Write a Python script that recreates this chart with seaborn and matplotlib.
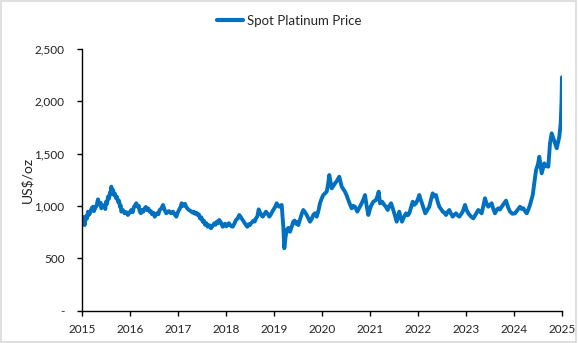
import matplotlib
matplotlib.use("Agg")
import matplotlib.pyplot as plt
import matplotlib.patches as mpatches
from matplotlib.ticker import FuncFormatter
import seaborn as sns
import pandas as pd

# Time in decimal years
time_years = [
    2015.010, 2015.020, 2015.031, 2015.043, 2015.056, 2015.070, 2015.083, 2015.104,
    2015.125, 2015.146, 2015.167, 2015.198, 2015.229, 2015.250, 2015.271, 2015.302,
    2015.333, 2015.354, 2015.375, 2015.389, 2015.402, 2015.438, 2015.473, 2015.486,
    2015.500, 2015.521, 2015.542, 2015.562, 2015.583, 2015.597, 2015.610, 2015.622,
    2015.635, 2015.651, 2015.667, 2015.688, 2015.708, 2015.729, 2015.750, 2015.771,
    2015.792, 2015.806, 2015.819, 2015.854, 2015.890, 2015.923, 2015.956, 2015.990,
    2016.027, 2016.055, 2016.083, 2016.107, 2016.131, 2016.149, 2016.167, 2016.185,
    2016.202, 2016.226, 2016.250, 2016.278, 2016.306, 2016.330, 2016.354, 2016.382,
    2016.410, 2016.434, 2016.458, 2016.487, 2016.515, 2016.538, 2016.562, 2016.590,
    2016.619, 2016.653, 2016.688, 2016.722, 2016.756, 2016.784, 2016.812, 2016.854,
    2016.896, 2016.930, 2016.965, 2016.993, 2017.021, 2017.049, 2017.077, 2017.101,
    2017.125, 2017.146, 2017.167, 2017.198, 2017.229, 2017.268, 2017.306, 2017.330,
    2017.354, 2017.382, 2017.410, 2017.434, 2017.458, 2017.487, 2017.515, 2017.538,
    2017.562, 2017.590, 2017.619, 2017.653, 2017.688, 2017.722, 2017.756, 2017.784,
    2017.812, 2017.836, 2017.860, 2017.896, 2017.931, 2017.955, 2017.979, 2018.007,
    2018.035, 2018.059, 2018.083, 2018.111, 2018.140, 2018.174, 2018.208, 2018.243,
    2018.277, 2018.312, 2018.348, 2018.382, 2018.417, 2018.443, 2018.469, 2018.495,
    2018.521, 2018.547, 2018.573, 2018.599, 2018.625, 2018.653, 2018.681, 2018.700,
    2018.719, 2018.742, 2018.765, 2018.799, 2018.833, 2018.867, 2018.902, 2018.930,
    2018.958, 2018.982, 2019.006, 2019.031, 2019.056, 2019.083, 2019.110, 2019.135,
    2019.160, 2019.194, 2019.215, 2019.240, 2019.265, 2019.299, 2019.333, 2019.368,
    2019.402, 2019.430, 2019.458, 2019.482, 2019.506, 2019.534, 2019.562, 2019.586,
    2019.610, 2019.646, 2019.681, 2019.716, 2019.750, 2019.785, 2019.819, 2019.855,
    2019.890, 2019.924, 2019.958, 2019.993, 2020.027, 2020.062, 2020.098, 2020.125,
    2020.152, 2020.177, 2020.202, 2020.236, 2020.271, 2020.312, 2020.360, 2020.385,
    2020.410, 2020.444, 2020.479, 2020.514, 2020.548, 2020.583, 2020.619, 2020.653,
    2020.688, 2020.711, 2020.735, 2020.781, 2020.827, 2020.861, 2020.896, 2020.930,
    2020.965, 2020.993, 2021.021, 2021.069, 2021.125, 2021.153, 2021.181, 2021.208,
    2021.253, 2021.298, 2021.333, 2021.369, 2021.403, 2021.438, 2021.472, 2021.506,
    2021.531, 2021.556, 2021.583, 2021.610, 2021.638, 2021.667, 2021.708, 2021.750,
    2021.785, 2021.819, 2021.855, 2021.890, 2021.924, 2021.958, 2021.993, 2022.027,
    2022.055, 2022.083, 2022.118, 2022.152, 2022.193, 2022.235, 2022.271, 2022.306,
    2022.340, 2022.375, 2022.410, 2022.444, 2022.479, 2022.515, 2022.549, 2022.583,
    2022.618, 2022.652, 2022.688, 2022.723, 2022.757, 2022.792, 2022.826, 2022.860,
    2022.896, 2022.931, 2022.955, 2022.979, 2023.013, 2023.048, 2023.100, 2023.152,
    2023.204, 2023.256, 2023.291, 2023.327, 2023.361, 2023.396, 2023.430, 2023.465,
    2023.500, 2023.535, 2023.569, 2023.604, 2023.638, 2023.673, 2023.708, 2023.744,
    2023.788, 2023.833, 2023.875, 2023.917, 2023.969, 2024.021, 2024.073, 2024.125,
    2024.160, 2024.194, 2024.230, 2024.265, 2024.299, 2024.333, 2024.390, 2024.417,
    2024.458, 2024.500, 2024.527, 2024.577, 2024.631, 2024.667, 2024.715, 2024.750,
    2024.785, 2024.833, 2024.890, 2024.944, 2024.973, 2024.990, 2024.999,
]

# Spot price, US$/oz
spot_price = [
    880, 895, 850, 870, 817, 860, 900, 880,
    945, 915, 930, 975, 992, 950, 975, 1000,
    1063, 1025, 1010, 1030, 977, 1005, 992, 970,
    1040, 1020, 1088, 1070, 1130, 1110, 1184, 1160,
    1140, 1150, 1104, 1115, 1075, 1085, 1040, 1050,
    990, 1005, 945, 960, 929, 940, 913, 935,
    961, 940, 990, 1005, 1025, 1000, 990, 1000,
    945, 930, 960, 945, 977, 990, 960, 975,
    945, 950, 920, 935, 897, 915, 930, 920,
    961, 975, 1009, 960, 929, 945, 950, 930,
    945, 920, 897, 935, 960, 985, 1025, 1000,
    1010, 1020, 992, 975, 960, 950, 935, 945,
    925, 935, 913, 920, 880, 890, 849, 860,
    820, 835, 801, 815, 786, 810, 834, 820,
    850, 835, 865, 840, 801, 815, 830, 805,
    817, 835, 820, 805, 801, 830, 865, 880,
    913, 890, 865, 840, 817, 800, 825, 815,
    834, 845, 860, 850, 881, 900, 967, 945,
    930, 910, 897, 920, 945, 925, 897, 915,
    940, 960, 977, 995, 1025, 1005, 992, 1000,
    1009, 801, 595, 700, 770, 790, 753, 800,
    849, 860, 830, 845, 817, 860, 900, 935,
    961, 940, 913, 880, 849, 875, 913, 930,
    897, 950, 1025, 1070, 1104, 1120, 1136, 1200,
    1295, 1230, 1168, 1190, 1216, 1240, 1279, 1230,
    1184, 1160, 1136, 1100, 1056, 1015, 977, 1000,
    992, 970, 945, 985, 1025, 1060, 1104, 1000,
    913, 960, 1000, 1040, 1056, 1090, 1136, 1025,
    1040, 1009, 990, 961, 1000, 1025, 980, 929,
    890, 849, 900, 945, 890, 849, 895, 929,
    910, 929, 985, 1040, 1010, 1025, 1060, 1104,
    1060, 1025, 975, 929, 960, 992, 1060, 1120,
    1090, 1104, 1040, 992, 970, 945, 935, 913,
    940, 961, 925, 897, 915, 929, 910, 897,
    920, 945, 975, 1009, 960, 929, 900, 881,
    920, 961, 945, 929, 1000, 1073, 1020, 992,
    1010, 1025, 970, 929, 960, 977, 965, 992,
    1020, 1050, 990, 945, 925, 929, 960, 992,
    970, 977, 950, 929, 965, 1009, 1104, 1200,
    1340, 1400, 1470, 1311, 1407, 1380, 1375, 1598,
    1694, 1630, 1551, 1662, 1790, 2000, 2230,
]

series_name = "Spot Platinum Price"
y_label = "US$/oz"
year_ticks = [2015, 2016, 2017, 2018, 2019, 2020, 2021, 2022, 2023, 2024, 2025]
price_ticks = [0, 500, 1000, 1500, 2000, 2500]

df = pd.DataFrame({"year": time_years, "price": spot_price})

sns.set_theme(style="white")
plt.rcParams["font.family"] = ["Lato", "DejaVu Sans"]

fig = plt.figure(figsize=(5.78, 3.43), dpi=100)
ax = fig.add_axes([82 / 578, 1 - 310.5 / 343, (562 - 82) / 578, (310.5 - 49) / 343])

sns.lineplot(data=df, x="year", y="price", ax=ax, color="#0070C0",
             linewidth=2.8, label=series_name)

ax.set_xlim(2015, 2025)
ax.set_ylim(0, 2500)
ax.set_xticks(year_ticks)
ax.set_xticklabels([str(y) for y in year_ticks])
ax.set_yticks(price_ticks)
ax.yaxis.set_major_formatter(FuncFormatter(lambda v, p: "-" if v == 0 else f"{v:,.0f}"))

for side in ["top", "right"]:
    ax.spines[side].set_visible(False)
for side in ["left", "bottom"]:
    ax.spines[side].set_color("black")
    ax.spines[side].set_linewidth(1.0)

ax.tick_params(axis="both", which="major", direction="out", length=3.5, width=1,
               color="black", labelsize=8.5, labelcolor="#222222")
ax.tick_params(axis="y", pad=9)
ax.tick_params(axis="x", pad=6)
ax.tick_params(left=True, bottom=True)

ax.set_xlabel("")
ax.set_ylabel(y_label, fontsize=10, color="#222222", labelpad=1)

leg = ax.legend(loc="center", bbox_to_anchor=(0.5, 1 - 21 / 343),
                bbox_transform=fig.transFigure, frameon=False, fontsize=9.5,
                handlelength=2.0, handletextpad=0.3)
for line in leg.get_lines():
    line.set_linewidth(3)

fig.patches.append(mpatches.Rectangle((0.001, 0.003), 0.996, 0.994,
                                      transform=fig.transFigure, fill=False,
                                      edgecolor="#d9d9d9", linewidth=1.2))

fig.savefig("out.png", dpi=100)
